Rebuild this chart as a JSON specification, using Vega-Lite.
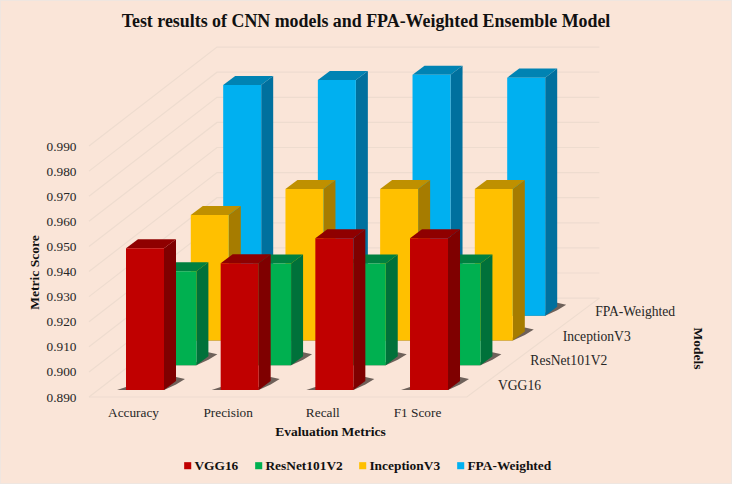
{
"$schema":"https://vega.github.io/schema/vega-lite/v6.json",
"width":732,"height":484,"autosize":{"type":"none"},"padding":0,
"background":"#FAE5D8",
"view":{"stroke":"#EFE6E0","strokeWidth":2,"fill":null},
"title":{"text":"Test results of CNN models and FPA-Weighted Ensemble Model","font":"Liberation Serif","fontWeight":"bold","fontSize":17.9,"color":"#111111","anchor":"middle","orient":"top","offset":-31},
"datasets":{
"scores":[
{"metric":"Accuracy","model":"FPA-Weighted","value":0.982},
{"metric":"Precision","model":"FPA-Weighted","value":0.984},
{"metric":"Recall","model":"FPA-Weighted","value":0.986},
{"metric":"F1 Score","model":"FPA-Weighted","value":0.9849},
{"metric":"Accuracy","model":"InceptionV3","value":0.94},
{"metric":"Precision","model":"InceptionV3","value":0.9504},
{"metric":"Recall","model":"InceptionV3","value":0.9504},
{"metric":"F1 Score","model":"InceptionV3","value":0.9504},
{"metric":"Accuracy","model":"ResNet101V2","value":0.9275},
{"metric":"Precision","model":"ResNet101V2","value":0.9305},
{"metric":"Recall","model":"ResNet101V2","value":0.9305},
{"metric":"F1 Score","model":"ResNet101V2","value":0.9305},
{"metric":"Accuracy","model":"VGG16","value":0.9465},
{"metric":"Precision","model":"VGG16","value":0.9405},
{"metric":"Recall","model":"VGG16","value":0.9505},
{"metric":"F1 Score","model":"VGG16","value":0.9505}
],
"levels":[{"level":0.89},{"level":0.9},{"level":0.91},{"level":0.92},{"level":0.93},{"level":0.94},{"level":0.95},{"level":0.96},{"level":0.97},{"level":0.98},{"level":0.99}]
},
"layer":[
{"data":{"name":"levels"},
"transform":[
{"calculate":"[{x:-0.3908,y:datum.level},{x:0.9613,y:datum.level+0.0394},{x:5.0,y:datum.level+0.0394}]","as":"v"},
{"flatten":["v"]},
{"calculate":"datum.v.x","as":"vx"},{"calculate":"datum.v.y","as":"vy"}],
"mark":{"type":"line","color":"#EEDCCF","strokeWidth":1.2},
"encoding":{
"detail":{"field":"level"},
"x":{"field":"vx","type":"quantitative","scale":{"domain":[-1.33094,6.40118],"nice":false,"zero":false},
"axis":{"values":[0,1,2,3],"labelExpr":"['Accuracy','Precision','Recall','F1 Score'][datum.value]","title":"Evaluation Metrics","titleFont":"Liberation Serif","titleFontWeight":"bold","titleFontSize":13.5,"titleColor":"#111111","titleX":330,"titleY":20,"labelFont":"Liberation Serif","labelFontSize":13.3,"labelColor":"#262626","labelOffset":7,"labelPadding":1,"offset":-80,"domain":false,"ticks":false,"grid":false,"labelFlush":false,"labelOverlap":false}},
"y":{"field":"vy","type":"quantitative","scale":{"domain":[0.85534,1.04817],"nice":false,"zero":false},
"axis":{"values":[0.89,0.9,0.91,0.92,0.93,0.94,0.95,0.96,0.97,0.98,0.99],"format":".3f","title":"Metric Score","titleFont":"Liberation Serif","titleFontWeight":"bold","titleFontSize":13.5,"titleColor":"#111111","titleX":-40,"titleY":272,"labelFont":"Liberation Serif","labelFontSize":13.3,"labelColor":"#262626","labelPadding":5,"offset":-81,"domain":false,"ticks":false,"grid":false,"labelOverlap":false,"labelFlush":false}}
}},
{"data":{"name":"levels"},
"transform":[{"filter":"datum.level==0.89"},
{"calculate":"[{x:-0.3908,y:0.89},{x:3.6,y:0.89},{x:5.0,y:0.9294}]","as":"v"},
{"flatten":["v"]},
{"calculate":"datum.v.x","as":"vx"},{"calculate":"datum.v.y","as":"vy"}],
"mark":{"type":"line","color":"#EEDCCF","strokeWidth":1.2},
"encoding":{
"x":{"field":"vx","type":"quantitative","axis":null},
"y":{"field":"vy","type":"quantitative","axis":null}
}},
{"data":{"name":"scores"},
"transform":[
{"calculate":"indexof(['Accuracy','Precision','Recall','F1 Score'],datum.metric)+0.3422*indexof(['VGG16','ResNet101V2','InceptionV3','FPA-Weighted'],datum.model)","as":"L"},
{"calculate":"datum.L+0.4014","as":"R"},
{"calculate":"0.89279+0.00985*indexof(['VGG16','ResNet101V2','InceptionV3','FPA-Weighted'],datum.model)","as":"B"},
{"calculate":"datum.B+datum.value-0.89","as":"T"},
{"calculate":"[{f:'shadow',x:datum.L-0.095,y:datum.B,z:datum.B},{f:'shadow',x:datum.L,y:datum.B+0.0012,z:datum.B},{f:'shadow',x:datum.R,y:datum.B+0.0012,z:datum.B},{f:'shadow',x:datum.R+0.1268,y:datum.B+0.0052,z:datum.B+0.0022},{f:'shadow',x:datum.R+0.2218,y:datum.B+0.0044,z:datum.B+0.0044},{f:' side',x:datum.R,y:datum.T,z:datum.B},{f:' side',x:datum.R+0.1268,y:datum.T+0.00359,z:datum.B+0.00359},{f:' top',x:datum.L,y:datum.T,z:datum.T},{f:' top',x:datum.L+0.1268,y:datum.T+0.00359,z:datum.T},{f:' top',x:datum.R,y:datum.T+0.00359,z:datum.T},{f:' top',x:datum.R+0.1268,y:datum.T+0.00359,z:datum.T+0.00359},{f:'',x:datum.L,y:datum.T,z:datum.B},{f:'',x:datum.R,y:datum.T,z:datum.B}]","as":"v"},
{"flatten":["v"]},
{"calculate":"datum.v.x","as":"vx"},{"calculate":"datum.v.y","as":"vy"},{"calculate":"datum.v.z","as":"vz"},
{"calculate":"datum.v.f=='shadow'?'shadow':datum.model+datum.v.f","as":"face"},
{"calculate":"datum.metric+'|'+datum.model+'|'+datum.v.f","as":"id"}],
"mark":{"type":"area","interpolate":"linear","strokeWidth":0},
"encoding":{
"detail":{"field":"id"},
"x":{"field":"vx","type":"quantitative","axis":null},
"y":{"field":"vy","type":"quantitative","axis":null},
"y2":{"field":"vz"},
"color":{"field":"face","type":"nominal",
"scale":{"domain":["VGG16","ResNet101V2","InceptionV3","FPA-Weighted","VGG16 side","ResNet101V2 side","InceptionV3 side","FPA-Weighted side","VGG16 top","ResNet101V2 top","InceptionV3 top","FPA-Weighted top","shadow"],
"range":["#C00000","#00B050","#FFC000","#00B0F0","#7F0000","#00713A","#A67C00","#00709E","#8F0000","#008040","#BF9000","#0083B3","#6E615A"]},
"legend":{"values":["VGG16","ResNet101V2","InceptionV3","FPA-Weighted"],"title":null,"orient":"none","legendX":181,"legendY":459,"direction":"horizontal","columns":4,"symbolType":"square","symbolSize":50,"symbolStrokeWidth":0,"labelFont":"Liberation Serif","labelFontWeight":"bold","labelFontSize":13.4,"labelColor":"#111111","labelOffset":0,"columnPadding":13,"gridAlign":"none"}}
}},
{"data":{"name":"scores"},
"transform":[{"filter":"datum.metric=='F1 Score'"},
{"calculate":"indexof(['VGG16','ResNet101V2','InceptionV3','FPA-Weighted'],datum.model)","as":"j"},
{"calculate":"3.929+0.3422*datum.j","as":"lx"},
{"calculate":"0.8944+0.00985*datum.j","as":"ly"}],
"mark":{"type":"text","align":"left","baseline":"middle","font":"Liberation Serif","fontSize":13.6,"color":"#262626"},
"encoding":{
"x":{"field":"lx","type":"quantitative","axis":null},
"y":{"field":"ly","type":"quantitative","axis":{"orient":"right","title":"Models","titleFont":"Liberation Serif","titleFontWeight":"bold","titleFontSize":13.5,"titleColor":"#111111","labels":false,"domain":false,"ticks":false,"grid":false,"offset":-42,"titlePadding":0,"titleY":348}},
"text":{"field":"model"}
}}
],
"resolve":{"axis":{"y":"independent","x":"independent"}}
}
